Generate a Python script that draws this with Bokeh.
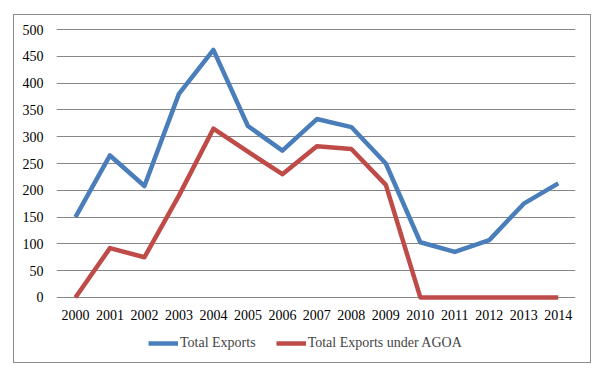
from bokeh.plotting import figure
from bokeh.models import Legend, LegendItem, FixedTicker, Range1d
from bokeh.embed import file_html
from bokeh.resources import INLINE

years = [2000, 2001, 2002, 2003, 2004, 2005, 2006, 2007, 2008, 2009, 2010, 2011, 2012, 2013, 2014]
year_labels = [str(y) for y in years]
total_exports = [150, 265, 208, 380, 462, 320, 274, 333, 318, 250, 103, 85, 107, 175, 213]
agoa_exports = [0, 92, 75, 190, 315, 272, 230, 282, 277, 210, 0, 0, 0, 0, 0]
y_ticks = [0, 50, 100, 150, 200, 250, 300, 350, 400, 450, 500]
baseline = [0] * len(years)

FONT = "Liberation Serif"

p = figure(width=576, height=347, output_backend="svg", toolbar_location=None,
           x_range=Range1d(1999.45, 2014.5), y_range=Range1d(-114, 502),
           x_axis_location=None,
           min_border_left=42, min_border_right=15, min_border_top=13, min_border_bottom=4)
p.outline_line_color = None
p.background_fill_color = "white"
p.border_fill_color = "white"
p.styles = {"margin-left": "14px", "margin-top": "15px",
            "box-shadow": "0 0 0 1px #8C8C8C"}

l1 = p.line(years, total_exports, line_color="#4A7EBB", line_width=4.5, line_join="round")
l2 = p.line(years, agoa_exports, line_color="#BE4B48", line_width=4.5, line_join="round")

# category labels under the zero line
p.text(x=years, y=baseline, text=year_labels, y_offset=18,
       text_align="center", text_baseline="middle",
       text_font={"value": FONT}, text_font_size="14px", text_color="#000000")

p.yaxis.ticker = FixedTicker(ticks=y_ticks)
p.yaxis.axis_line_color = None
p.yaxis.major_tick_line_color = None
p.yaxis.minor_tick_line_color = None
p.yaxis.major_label_text_font = FONT
p.yaxis.major_label_text_font_size = "14px"
p.yaxis.major_label_text_color = "#000000"
p.yaxis.major_label_standoff = 7
p.xgrid.grid_line_color = None
p.ygrid.grid_line_color = "#868686"
p.ygrid.grid_line_width = 1

legend = Legend(items=[LegendItem(label="Total Exports", renderers=[l1]),
                       LegendItem(label="Total Exports under AGOA", renderers=[l2])],
                orientation="horizontal", location=(92, 5),
                border_line_color=None, background_fill_alpha=0,
                label_text_font=FONT, label_text_font_size="14px",
                glyph_width=30, label_standoff=2, spacing=20,
                padding=0, margin=0)
p.add_layout(legend)

open("out.html", "w").write(file_html(p, INLINE))
